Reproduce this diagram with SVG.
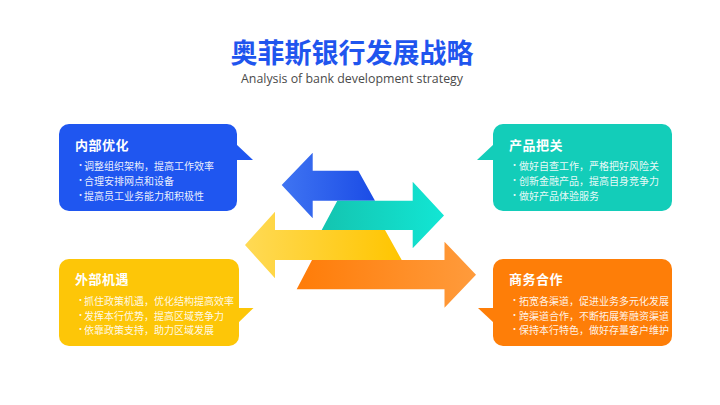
<svg xmlns="http://www.w3.org/2000/svg" width="720" height="405" viewBox="0 0 720 405">
  <defs>
    <linearGradient id="gBlue" x1="0" y1="0" x2="1" y2="0">
      <stop offset="0" stop-color="#3F74F2"/>
      <stop offset="1" stop-color="#1B4CE6"/>
    </linearGradient>
    <linearGradient id="gTeal" x1="0" y1="0" x2="1" y2="0">
      <stop offset="0" stop-color="#14C4B0"/>
      <stop offset="1" stop-color="#12E6D4"/>
    </linearGradient>
    <linearGradient id="gYellow" x1="0" y1="0" x2="1" y2="0">
      <stop offset="0" stop-color="#FFDA55"/>
      <stop offset="1" stop-color="#FFC500"/>
    </linearGradient>
    <linearGradient id="gOrange" x1="0" y1="0" x2="1" y2="0">
      <stop offset="0" stop-color="#FF7C08"/>
      <stop offset="1" stop-color="#FF9B3C"/>
    </linearGradient>
    <style>
      .title { font-family: "Noto Sans CJK SC", "Noto Sans", sans-serif; font-weight: 700; font-size: 27px; fill: #1F55EE; }
      .sub { font-family: "Open Sans", "Liberation Sans", sans-serif; font-size: 12px; fill: #4A4A4A; }
      .h { font-family: "Noto Sans CJK SC", sans-serif; font-weight: 700; font-size: 13px; fill: #FFFFFF; letter-spacing: 0.5px; }
      .t { font-family: "Noto Sans CJK SC", sans-serif; font-size: 10px; fill: #FFFFFF; fill-opacity: 0.92; }
      .dot { font-size: 9px; }
    </style>
  </defs>

  <rect width="720" height="405" fill="#FFFFFF"/>

  <text class="title" x="352" y="63" text-anchor="middle">奥菲斯银行发展战略</text>
  <text class="sub" x="352" y="83" text-anchor="middle" textLength="222" lengthAdjust="spacingAndGlyphs">Analysis of bank development strategy</text>

  <g id="connectors">
    <path id="arrow-blue" d="M281.7,185 L312.7,152.7 L312.7,170.7 L358.3,170.7 L375,200.7 L312.7,200.7 L312.7,218.3 Z" fill="url(#gBlue)"/>
    <path id="arrow-teal" d="M337.3,200.7 L412.7,200.7 L412.7,181.7 L444,215.4 L412.7,248.3 L412.7,230 L321.7,230 Z" fill="url(#gTeal)"/>
    <path id="arrow-yellow" d="M245,245 L275,211.7 L275,230 L385,230 L401.7,260 L275,260 L275,278.3 Z" fill="url(#gYellow)"/>
    <path id="arrow-orange" d="M312,260 L444.5,260 L444.5,241.7 L476,274.7 L444.5,307.7 L444.5,289.3 L296.7,289.3 Z" fill="url(#gOrange)"/>
  </g>

  <g id="node-internal">
    <rect x="59" y="124" width="178" height="87" rx="10" fill="#1F56F0"/>
    <path d="M236,144 L253,160 L236,160 Z" fill="#1F56F0"/>
    <text class="h" x="75" y="150">内部优化</text>
    <text class="t" x="76" y="170"><tspan class="dot" dy="-2">•</tspan><tspan x="84" dy="2">调整组织架构，提高工作效率</tspan></text>
    <text class="t" x="76" y="185"><tspan class="dot" dy="-2">•</tspan><tspan x="84" dy="2">合理安排网点和设备</tspan></text>
    <text class="t" x="76" y="200"><tspan class="dot" dy="-2">•</tspan><tspan x="84" dy="2">提高员工业务能力和积极性</tspan></text>
  </g>

  <g id="node-product">
    <rect x="493" y="124" width="179" height="87" rx="10" fill="#13CDB9"/>
    <path d="M494,144 L477,160 L494,160 Z" fill="#13CDB9"/>
    <text class="h" x="509" y="150">产品把关</text>
    <text class="t" x="510" y="170"><tspan class="dot" dy="-2">•</tspan><tspan x="519" dy="2">做好自查工作，严格把好风险关</tspan></text>
    <text class="t" x="510" y="185"><tspan class="dot" dy="-2">•</tspan><tspan x="519" dy="2">创新金融产品，提高自身竞争力</tspan></text>
    <text class="t" x="510" y="200"><tspan class="dot" dy="-2">•</tspan><tspan x="519" dy="2">做好产品体验服务</tspan></text>
  </g>

  <g id="node-external">
    <rect x="59" y="259" width="180" height="87" rx="10" fill="#FDC608"/>
    <path d="M238,308 L253.5,308 L238,323 Z" fill="#FDC608"/>
    <text class="h" x="75" y="284">外部机遇</text>
    <text class="t" x="76" y="305"><tspan class="dot" dy="-2">•</tspan><tspan x="84" dy="2">抓住政策机遇，优化结构提高效率</tspan></text>
    <text class="t" x="76" y="319.5"><tspan class="dot" dy="-2">•</tspan><tspan x="84" dy="2">发挥本行优势，提高区域竞争力</tspan></text>
    <text class="t" x="76" y="334"><tspan class="dot" dy="-2">•</tspan><tspan x="84" dy="2">依靠政策支持，助力区域发展</tspan></text>
  </g>

  <g id="node-business">
    <rect x="493" y="259" width="179" height="87" rx="10" fill="#FE7E08"/>
    <path d="M494,308 L478,308 L494,323 Z" fill="#FE7E08"/>
    <text class="h" x="509" y="284">商务合作</text>
    <text class="t" x="510" y="305"><tspan class="dot" dy="-2">•</tspan><tspan x="519" dy="2">拓宽各渠道，促进业务多元化发展</tspan></text>
    <text class="t" x="510" y="319.5"><tspan class="dot" dy="-2">•</tspan><tspan x="519" dy="2">跨渠道合作，不断拓展筹融资渠道</tspan></text>
    <text class="t" x="510" y="334"><tspan class="dot" dy="-2">•</tspan><tspan x="519" dy="2">保持本行特色，做好存量客户维护</tspan></text>
  </g>
</svg>
